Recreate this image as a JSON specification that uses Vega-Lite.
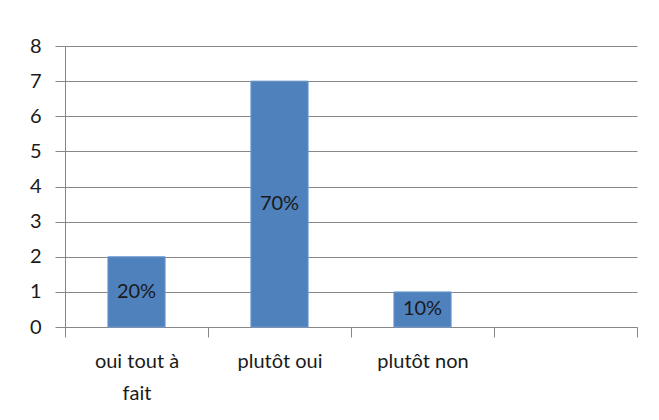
{
  "$schema": "https://vega.github.io/schema/vega-lite/v6.json",
  "width": 572,
  "height": 281,
  "autosize": {"type": "none"},
  "padding": {"left": 65, "top": 46, "right": 22, "bottom": 93},
  "background": "white",
  "config": {
    "view": {"stroke": null},
    "font": "Lato"
  },
  "data": {
    "values": [
      {"cat": "oui tout à fait", "value": 2, "label": "20%"},
      {"cat": "plutôt oui", "value": 7, "label": "70%"},
      {"cat": "plutôt non", "value": 1, "label": "10%"},
      {"cat": " ", "value": null, "label": ""}
    ]
  },
  "encoding": {
    "x": {
      "field": "cat",
      "type": "nominal",
      "sort": null,
      "scale": {"domain": ["oui tout à fait", "plutôt oui", "plutôt non", " "], "paddingInner": 0, "paddingOuter": 0},
      "axis": {
        "title": null,
        "labelAngle": 0,
        "tickBand": "extent",
        "grid": false,
        "domainColor": "#878787",
        "tickColor": "#878787",
        "tickSize": 10,
        "labelPadding": 14,
        "labelFontSize": 20,
        "labelColor": "#1a1a1a",
        "labelFont": "Lato",
        "labelBaseline": "top",
        "labelLineHeight": 32,
        "labelExpr": "datum.label == 'oui tout à fait' ? ['oui tout à', 'fait'] : datum.label"
      }
    },
    "y": {
      "field": "value",
      "type": "quantitative",
      "scale": {"domain": [0, 8]},
      "axis": {
        "title": null,
        "values": [0, 1, 2, 3, 4, 5, 6, 7, 8],
        "labelOverlap": false,
        "grid": true,
        "gridColor": "#878787",
        "domainColor": "#878787",
        "tickColor": "#878787",
        "tickSize": 10,
        "labelPadding": 14,
        "labelFontSize": 20,
        "labelColor": "#1a1a1a",
        "labelFont": "Lato"
      }
    }
  },
  "layer": [
    {
      "mark": {"type": "bar", "color": "#4F81BD", "stroke": "#6f9ad0", "strokeWidth": 1, "width": {"band": 0.4}}
    },
    {
      "transform": [{"filter": "datum.value != null"}],
      "mark": {"type": "text", "fontSize": 20, "color": "#1a1a1a", "baseline": "middle", "font": "Lato"},
      "encoding": {
        "y": {
          "field": "value",
          "type": "quantitative",
          "stack": "zero",
          "bandPosition": 0.5,
          "scale": {"domain": [0, 8]},
          "axis": {
            "title": null,
            "values": [0, 1, 2, 3, 4, 5, 6, 7, 8],
            "labelOverlap": false,
            "grid": true,
            "gridColor": "#878787",
            "domainColor": "#878787",
            "tickColor": "#878787",
            "tickSize": 10,
            "labelPadding": 14,
            "labelFontSize": 20,
            "labelColor": "#1a1a1a",
            "labelFont": "Lato"
          }
        },
        "text": {"field": "label"}
      }
    }
  ]
}
